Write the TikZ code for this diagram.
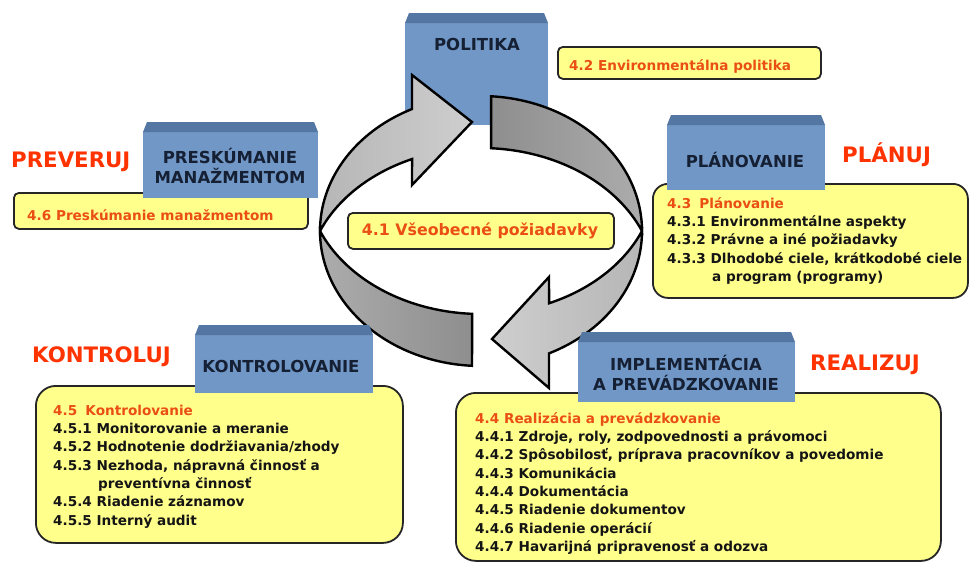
\documentclass[tikz,border=0pt]{standalone}
\usepackage{fontspec}
\setmainfont{DejaVu Sans}
\definecolor{facebl}{RGB}{112,151,197}
\definecolor{topbl}{RGB}{84,118,163}
\definecolor{navy}{RGB}{22,32,52}
\definecolor{redlab}{RGB}{255,51,0}
\definecolor{orangetx}{RGB}{234,78,20}
\definecolor{yell}{RGB}{255,255,140}
\definecolor{lightA}{RGB}{206,206,206}
\definecolor{lightB}{RGB}{182,182,182}
\definecolor{darkA}{RGB}{172,172,172}
\definecolor{darkB}{RGB}{142,142,142}
\newcommand\mybevel[1]{\fill[topbl] (#1.north west) -- ([shift={(4pt,10pt)}]#1.north west) -- ([shift={(-4pt,10pt)}]#1.north east) -- (#1.north east) -- cycle;}
\begin{document}
\begin{tikzpicture}[x=1pt,y=-1pt,
  face/.style={fill=facebl, draw=none, inner sep=0pt, outer sep=0pt, anchor=north west},
  ybox/.style={draw=black!85, line width=1.8pt, fill=yell, rounded corners=#1, inner sep=0pt, anchor=north west},
  arr/.style={draw=black, line width=2.4pt, samples=60},
  bt/.style={text=navy, font=\bfseries\fontsize{16.5}{18}\selectfont, inner sep=0pt, anchor=base},
  rl/.style={text=redlab, font=\bfseries\fontsize{21.3}{24}\selectfont, inner sep=0pt, anchor=base west},
  ln/.style={text=black!92, font=\bfseries\fontsize{13.6}{16}\selectfont, inner sep=0pt, anchor=base west},
  oln/.style={ln, text=orangetx}]
\useasboundingbox (0,0) rectangle (969,563);
\fill[white] (0,0) rectangle (969,563);

% POLITIKA box (behind the arrows)
\node[face, minimum width=143pt, minimum height=102pt] (pol) at (405,23) {};
\mybevel{pol}

% ring of arrows
\shadedraw[arr, left color=lightB, right color=lightA] (320,231)
  -- plot[domain=180:115.4] ({481+161*cos(\x)},{231-135*sin(\x)})
  -- (412,75) -- (472,122) -- (412,185)
  -- plot[domain=113.2:156.9] ({481+175*cos(\x)},{284.5-136.5*sin(\x)})
  -- cycle;
\shadedraw[arr, left color=darkB, right color=darkA] plot[domain=86.4:0] ({481+161*cos(\x)},{231-135*sin(\x)})
  -- plot[domain=23.1:86.7] ({481+175*cos(\x)},{284.5-136.5*sin(\x)}) -- cycle;
\shadedraw[arr, left color=lightA, right color=lightB] plot[domain=0:65] ({481+161*cos(\x)},{231+135*sin(\x)})
  -- (549,388) -- (492,339) -- (549,277)
  -- plot[domain=67.1:23.1] ({481+175*cos(\x)},{177.5+136.5*sin(\x)}) -- cycle;
\shadedraw[arr, left color=darkA, right color=darkB] plot[domain=156.9:92.9] ({481+175*cos(\x)},{177.5+136.5*sin(\x)})
  -- plot[domain=93.2:180] ({481+161*cos(\x)},{231+135*sin(\x)}) -- cycle;

% yellow boxes
\node[ybox=5pt, minimum width=263pt, minimum height=32pt] (b42) at (557,46) {};
\node[ybox=5pt, minimum width=294pt, minimum height=36pt] (b46) at (13,192) {};
\node[ybox=5pt, minimum width=266pt, minimum height=36pt] (b41) at (347,212) {};
\node[ybox=15pt, minimum width=315pt, minimum height=114pt] (b43) at (652,183) {};
\node[ybox=20pt, minimum width=367pt, minimum height=157pt] (b45) at (35,385) {};
\node[ybox=20pt, minimum width=485pt, minimum height=168pt] (b44) at (455,392) {};

% blue boxes
\node[face, minimum width=175pt, minimum height=66pt] (pre) at (143,132) {};
\mybevel{pre}
\node[face, minimum width=158pt, minimum height=65pt] (pla) at (667,125) {};
\mybevel{pla}
\node[face, minimum width=178pt, minimum height=58pt] (kon) at (195,335) {};
\mybevel{kon}
\node[face, minimum width=217pt, minimum height=60pt] (imp) at (578,342) {};
\mybevel{imp}

% blue box texts
\node[bt] (tpol) at (477,50) {POLITIKA};
\node[bt] (tpre1) at (230,163) {PRESKÚMANIE};
\node[bt] (tpre2) at (230,183) {MANAŽMENTOM};
\node[bt] (tpla) at (745,167) {PLÁNOVANIE};
\node[bt] (tkon) at (281,372) {KONTROLOVANIE};
\node[bt] (timp1) at (686,370) {IMPLEMENTÁCIA};
\node[bt] (timp2) at (686,390) {A PREVÁDZKOVANIE};

% red labels
\node[rl] (lpre) at (11,167) {PREVERUJ};
\node[rl] (lkon) at (32,362) {KONTROLUJ};
\node[rl] (lpla) at (842,162) {PLÁNUJ};
\node[rl] (lrea) at (810,370) {REALIZUJ};

% yellow box texts
\node[oln] (t42) at (569,70) {4.2 Environmentálna politika};
\node[oln] (t46) at (27,220) {4.6 Preskúmanie manažmentom};
\node[oln, anchor=base, font=\bfseries\fontsize{15.8}{18}\selectfont] (t41) at (480,235) {4.1 Všeobecné požiadavky};

\node[oln] (t43) at (667,208) {4.3\hspace{0.6em}Plánovanie};
\node[ln] (t431) at (667,226.4) {4.3.1 Environmentálne aspekty};
\node[ln] (t432) at (667,244.8) {4.3.2 Právne a iné požiadavky};
\node[ln] (t433) at (667,263.2) {4.3.3 Dlhodobé ciele, krátkodobé ciele};
\node[ln] (t433b) at (712,281.6) {a program (programy)};

\node[oln] (t45) at (53,415) {4.5\hspace{0.6em}Kontrolovanie};
\node[ln] (t451) at (53,433.3) {4.5.1 Monitorovanie a meranie};
\node[ln] (t452) at (53,451.7) {4.5.2 Hodnotenie dodržiavania/zhody};
\node[ln] (t453) at (53,470) {4.5.3 Nezhoda, nápravná činnosť a};
\node[ln] (t453b) at (98,488.3) {preventívna činnosť};
\node[ln] (t454) at (53,506.7) {4.5.4 Riadenie záznamov};
\node[ln] (t455) at (53,525) {4.5.5 Interný audit};

\node[oln] (t44) at (475,423) {4.4 Realizácia a prevádzkovanie};
\node[ln] (t441) at (475,441.4) {4.4.1 Zdroje, roly, zodpovednosti a právomoci};
\node[ln] (t442) at (475,459.7) {4.4.2 Spôsobilosť, príprava pracovníkov a povedomie};
\node[ln] (t443) at (475,478.1) {4.4.3 Komunikácia};
\node[ln] (t444) at (475,496.4) {4.4.4 Dokumentácia};
\node[ln] (t445) at (475,514.8) {4.4.5 Riadenie dokumentov};
\node[ln] (t446) at (475,533.2) {4.4.6 Riadenie operácií};
\node[ln] (t447) at (475,551.5) {4.4.7 Havarijná pripravenosť a odozva};
\end{tikzpicture}
\end{document}
